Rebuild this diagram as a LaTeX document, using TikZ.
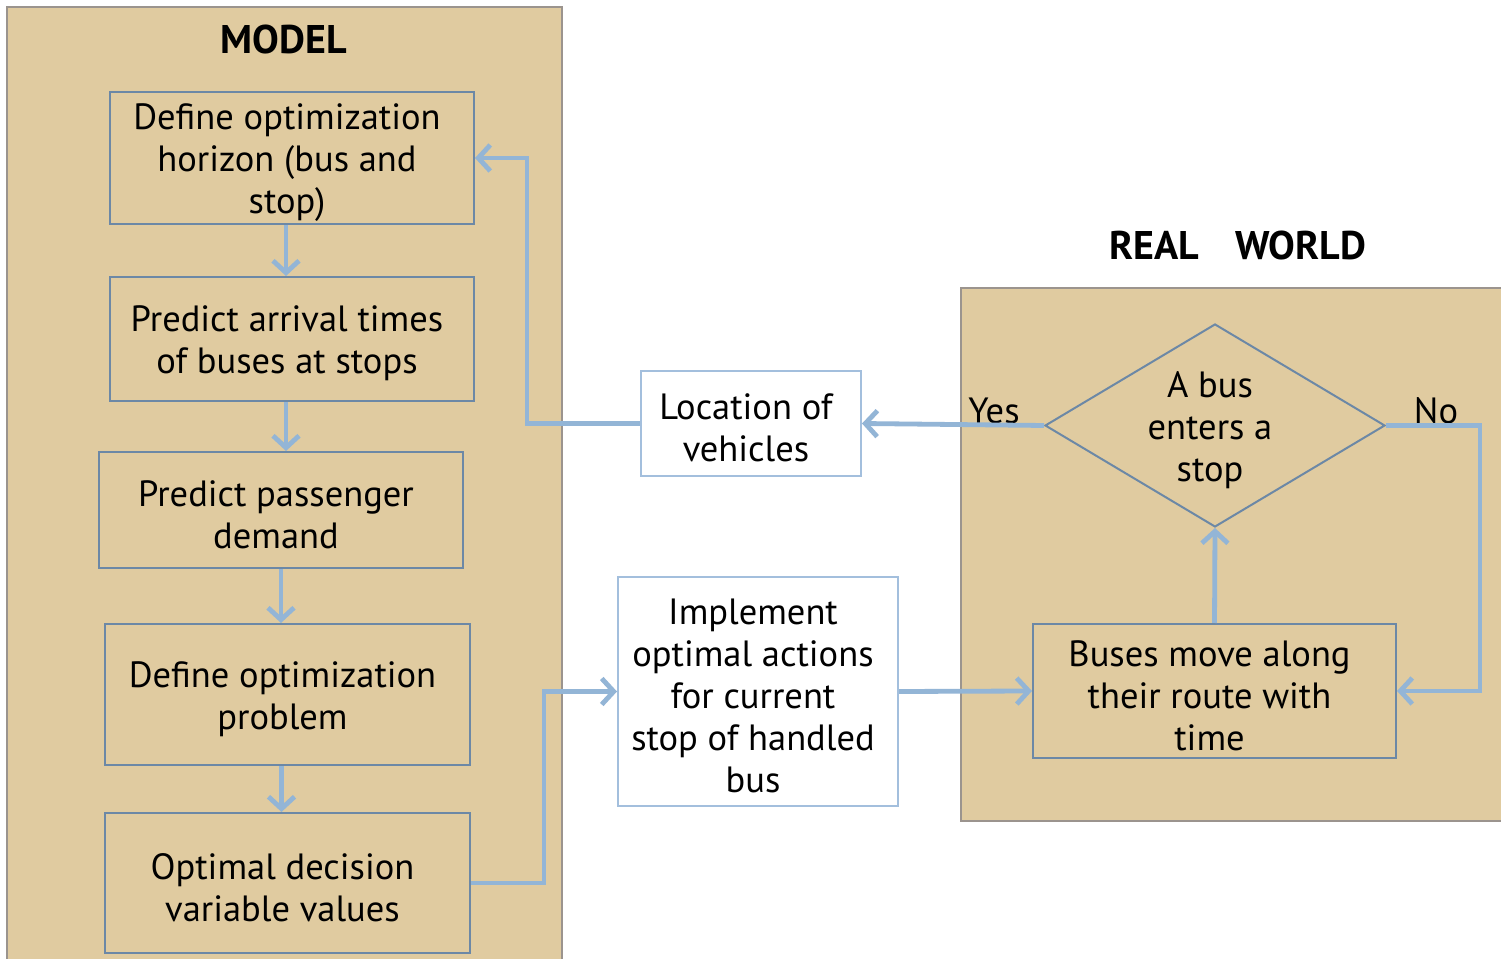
\documentclass[tikz,border=0pt]{standalone}
\usepackage{fontspec}
\setmainfont{PT Sans}
\usetikzlibrary{arrows.meta,shapes.geometric,calc}

\definecolor{panelfill}{RGB}{224,203,160}
\definecolor{panelline}{RGB}{155,148,142}
\definecolor{boxline}{RGB}{108,136,166}
\definecolor{lightline}{RGB}{163,191,221}
\definecolor{flow}{RGB}{147,181,214}

\tikzset{
  txt/.style={align=center, inner sep=0pt, font=\fontsize{36.5}{42}\selectfont},
  % box outline; its caption sits a little left of and below the centre
  caption/.style={label={[txt, xshift=-5pt, yshift=-4.5pt]center:#1}},
  stepbox/.style={draw=boxline, line width=2pt, fill=panelfill, inner sep=0pt},
  infobox/.style={draw=lightline, line width=2pt, fill=white, inner sep=0pt},
  panel/.style={fill=panelfill, draw=panelline, line width=1.5pt},
  heading/.style={inner sep=0pt, font=\fontsize{40}{46}\selectfont\bfseries},
  arr/.style={draw=flow, line width=4.8pt,
    -{Straight Barb[length=12pt,width=26pt,line width=4.8pt]}},
}

\begin{document}
\begin{tikzpicture}[x=1pt,y=1pt]
\useasboundingbox (0,0) rectangle (1501,958);
\fill[white] (0,0) rectangle (1501,958);

% panels
\draw[panel] (7,-10) rectangle (562,951);
\draw[panel] (961,137) rectangle (1515,670);
\node[heading] (tmodel) at (284,918) {MODEL};
\node[heading] (treal) at (1238,712) {REAL\hspace{0.9em}WORLD};

% model steps
\node[stepbox, minimum width=364pt, minimum height=132pt,
  caption={Define optimization\\horizon (bus and\\stop)}] (b1) at (292,800) {};
\node[stepbox, minimum width=364pt, minimum height=124pt,
  caption={Predict arrival times\\of buses at stops}] (b2) at (292,619) {};
\node[stepbox, minimum width=364pt, minimum height=116pt,
  caption={Predict passenger\\demand}] (b3) at (281,448) {};
\node[stepbox, minimum width=365pt, minimum height=141pt,
  caption={Define optimization\\problem}] (b4) at (287.5,263.5) {};
\node[stepbox, minimum width=365pt, minimum height=140pt,
  caption={Optimal decision\\variable values}] (b5) at (287.5,75) {};

% exchange boxes
\node[infobox, minimum width=220pt, minimum height=105pt,
  caption={Location of\\vehicles}] (loc) at (751,534.5) {};
\node[infobox, minimum width=280pt, minimum height=229pt,
  caption={Implement\\optimal actions\\for current\\stop of handled\\bus}] (impl) at (758,266.5) {};

% real world
\node[diamond, draw=boxline, line width=2pt, fill=panelfill, inner sep=0pt,
  minimum width=340pt, minimum height=203pt,
  caption={A bus\\enters a\\stop}] (dec) at (1215,532.5) {};
\node[stepbox, minimum width=363pt, minimum height=134pt,
  caption={Buses move along\\their route with\\time}] (bus) at (1214.5,267) {};
\node[txt, anchor=south] (yes) at (994,534) {Yes};
\node[txt, anchor=south] (no) at (1436,534) {No};

% flow
\draw[arr] ([xshift=-6pt]b1.south) -- ([xshift=-6pt]b1.south |- b2.north);
\draw[arr] ([xshift=-6pt]b2.south) -- ([xshift=-6pt]b2.south |- b3.north);
\draw[arr] (b3.south) -- (b3.south |- b4.north);
\draw[arr] ([xshift=-6pt]b4.south) -- ([xshift=-6pt]b4.south |- b5.north);

\draw[arr] (dec.west) -- (loc.east);
\draw[arr] (loc.west) -- ++(-113,0) |- (b1.east);
\draw[arr] (b5.east) -- ++(73,0) |- (impl.west);
\draw[arr] (impl.east) -- (bus.west);
\draw[arr] (dec.east) -- ++(94,0) |- (bus.east);
\draw[arr] (bus.north) -- (dec.south);
\end{tikzpicture}
\end{document}
